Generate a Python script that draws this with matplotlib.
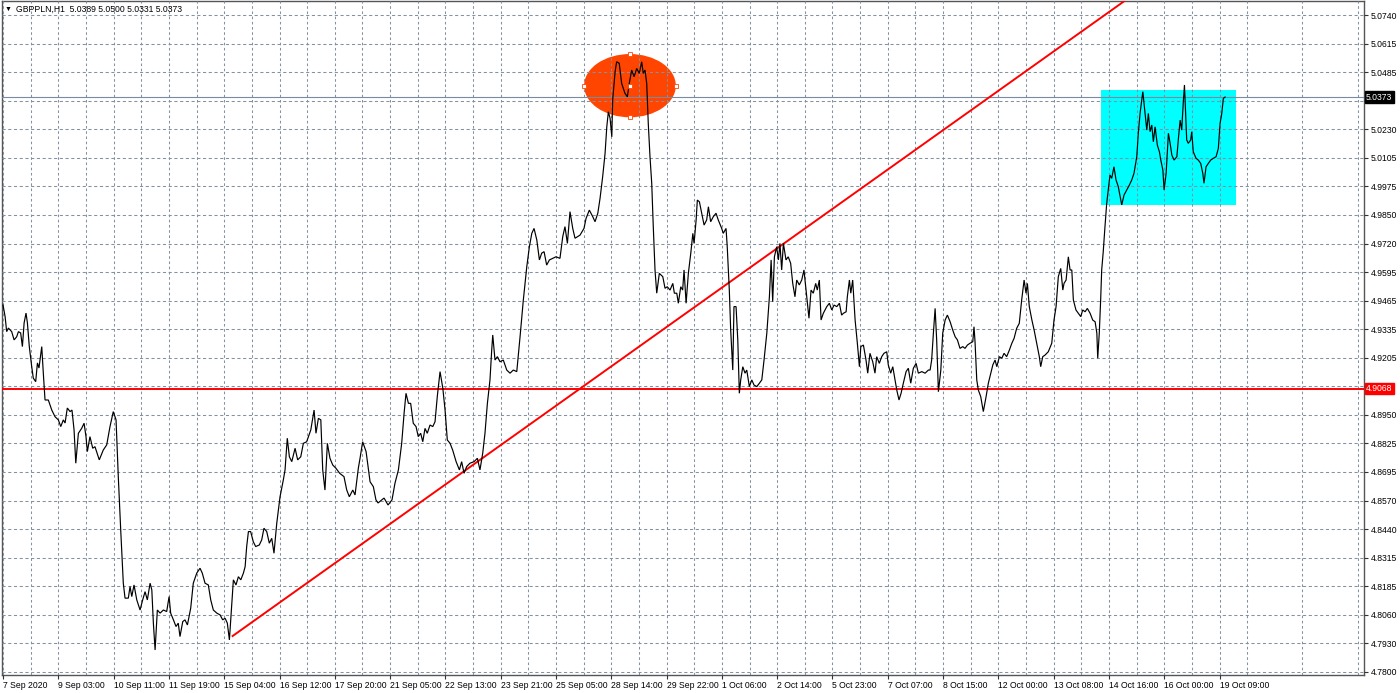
import numpy as np
import matplotlib

matplotlib.use("Agg")
import matplotlib.pyplot as plt
from matplotlib.patches import Ellipse, Rectangle
from matplotlib.transforms import blended_transform_factory

# hourly GBPPLN bars, vertices (bar index, price)
bars = [
    0, 1.2, 2.1, 3.1, 5.0, 6.4, 7.9, 8.9, 10.2, 11.2, 12.2, 13.3, 14.1, 15.2, 16.6, 17.5, 18.9, 19.9, 20.8, 22.4,
    23.3, 24.3, 26.2, 28.2, 30.1, 32.0, 33.4, 34.9, 35.9, 37.2, 38.8, 39.9, 41.1, 42.1, 43.6, 45.5, 46.9, 48.0, 48.8, 50.3,
    51.9, 53.2, 55.7, 58.0, 60.0, 61.9, 63.8, 65.4, 66.7, 68.1, 69.6, 70.6, 72.5, 73.5, 74.5, 75.8, 77.4, 79.3, 80.8, 82.2,
    83.5, 85.1, 86.1, 87.0, 88.0, 89.3, 90.9, 92.8, 94.7, 96.1, 97.0, 98.6, 100.1, 101.4, 102.4, 104.0, 105.3, 106.7, 108.6, 110.1,
    112.1, 114.0, 115.3, 116.9, 118.8, 120.2, 121.7, 123.7, 125.6, 127.1, 128.5, 129.8, 131.0, 132.4, 133.3, 134.8, 136.2, 137.6, 139.1, 140.1,
    141.0, 142.0, 143.3, 144.8, 146.2, 148.3, 149.7, 151.0, 152.6, 154.1, 155.5, 156.8, 158.4, 160.3, 162.2, 163.2, 164.5, 165.7, 167.1, 169.0,
    170.5, 172.3, 173.8, 175.7, 178.1, 180.0, 181.1, 182.5, 183.9, 185.0, 186.3, 187.7, 189.2, 190.8, 192.7, 194.8, 197.3, 198.9, 200.4, 202.4,
    203.7, 205.6, 206.6, 208.1, 210.1, 212.4, 214.3, 215.8, 217.0, 220.5, 222.8, 225.1, 226.8, 228.8, 230.7, 232.1, 233.2, 234.6, 235.9, 237.4,
    239.0, 240.3, 241.7, 242.9, 244.2, 245.5, 247.1, 248.7, 250.0, 251.3, 252.9, 254.5, 255.8, 257.1, 258.7, 260.2, 262.2, 264.1, 265.4, 266.8,
    268.3, 270.2, 272.6, 274.5, 276.0, 277.6, 278.9, 280.3, 281.8, 282.8, 283.4, 284.7, 286.1, 287.6, 289.5, 291.5, 293.4, 295.3, 297.3, 299.2,
    301.1, 303.1, 304.6, 306.0, 307.3, 308.9, 310.4, 311.7, 313.1, 314.6, 316.2, 318.1, 320.0, 322.3, 323.9, 325.2, 326.6, 328.1, 329.7, 331.0,
    333.9, 336.2, 337.4, 339.3, 341.3, 342.6, 344.2, 345.5, 347.0, 348.4, 349.4, 350.3, 351.3, 352.3, 352.8, 354.2, 355.1, 356.6, 358.0, 359.9,
    361.3, 362.4, 363.8, 365.2, 366.7, 368.2, 369.6, 370.5, 371.5, 372.5, 373.4, 374.4, 375.4, 376.3, 377.3, 378.3, 379.8, 381.8, 383.1, 384.4,
    386.0, 387.6, 388.5, 389.9, 390.8, 392.2, 393.3, 394.1, 395.3, 396.6, 398.0, 399.2, 399.9, 401.1, 401.8, 403.0, 404.3, 405.7, 407.2, 408.2,
    409.5, 411.0, 412.6, 413.9, 415.9, 416.8, 418.4, 419.1, 420.3, 421.1, 422.3, 423.0, 424.2, 425.2, 426.1, 426.9, 428.1, 429.4, 430.4, 431.9,
    433.3, 434.6, 436.2, 437.7, 439.1, 440.4, 442.0, 443.5, 444.5, 445.4, 446.4, 447.7, 448.7, 449.6, 450.6, 451.6, 453.1, 454.4, 455.8, 457.0,
    458.3, 459.3, 460.8, 462.2, 463.5, 465.1, 466.4, 467.6, 468.9, 470.3, 471.2, 472.4, 473.4, 474.7, 476.7, 478.2, 479.6, 480.9, 482.5, 484.0,
    485.3, 486.3, 487.9, 488.6, 489.8, 490.6, 491.7, 493.1, 494.4, 495.6, 496.4, 497.9, 499.4, 500.4, 501.7, 503.3, 504.6, 505.6, 507.1, 508.5,
    509.8, 511.4, 512.3, 513.7, 514.9, 516.2, 517.2, 518.5, 519.7, 521.0, 522.6, 523.9, 525.3, 526.8, 528.4, 529.7, 531.7, 533.6, 535.5, 536.5,
    537.4, 538.4, 539.4, 540.3, 541.3, 542.7, 543.8, 545.2, 546.5, 548.1, 549.6, 551.0, 552.3, 553.8, 555.4, 556.7, 558.1, 559.6, 561.2, 561.9,
    562.5, 563.5, 564.4, 565.8, 567.3, 568.9, 570.2, 571.6, 572.8, 574.1, 575.1, 576.6, 578.0, 579.3, 580.8, 582.4, 583.8, 585.1, 586.6, 588.1,
    589.5, 590.9, 592.0, 592.8, 593.9, 595.4, 596.7, 598.2, 599.7, 600.5, 601.7, 603.0, 604.9, 606.9, 608.2, 609.4, 610.7, 612.1, 613.3, 614.0,
    615.2, 616.5, 617.5, 618.5, 619.4, 620.9, 622.3, 623.7, 624.8, 626.2, 627.5, 629.1, 630.6, 632.0, 633.0, 633.5, 634.4, 635.2, 635.8, 636.7,
    637.7, 638.7, 639.6, 640.6, 641.6, 642.9, 644.1, 645.4, 647.4, 648.7, 650.3, 651.8, 653.2, 654.5, 656.1, 657.0, 658.0, 659.6, 660.9, 661.9,
    662.8, 663.8, 664.8, 665.7, 666.7, 668.0, 669.2, 670.0, 671.2, 671.9, 673.1, 674.4, 675.4, 676.4, 677.7, 679.3, 680.2, 681.2, 682.1, 683.1,
    683.7, 684.4, 685.0, 685.9, 687.3, 687.9, 688.8, 690.4, 691.7, 693.1, 694.3, 695.0, 696.2, 697.5, 698.9, 700.4, 702.0, 703.3, 704.3, 705.3,
    706.2, 707.2,
]
prices = [
    4.9442, 4.9390, 4.9323, 4.9339, 4.9323, 4.9286, 4.9300, 4.9323, 4.9317, 4.9256, 4.9362, 4.9406, 4.9362, 4.9256, 4.9166, 4.9115, 4.9099, 4.9183, 4.9160, 4.9256,
    4.9138, 4.9017, 4.9017, 4.8972, 4.8942, 4.8928, 4.8898, 4.8928, 4.8914, 4.8981, 4.8965, 4.8972, 4.8883, 4.8734, 4.8868, 4.8890, 4.8913, 4.8853, 4.8786, 4.8853,
    4.8801, 4.8808, 4.8749, 4.8793, 4.8816, 4.8898, 4.8965, 4.8928, 4.8674, 4.8435, 4.8197, 4.8130, 4.8130, 4.8182, 4.8137, 4.8189, 4.8122, 4.8077, 4.8122, 4.8159,
    4.8122, 4.8197, 4.8167, 4.8018, 4.7898, 4.8077, 4.8063, 4.8077, 4.8070, 4.8137, 4.8063, 4.8033, 4.8003, 4.8018, 4.7958, 4.8025, 4.8033, 4.8010, 4.8085, 4.8197,
    4.8242, 4.8264, 4.8242, 4.8197, 4.8189, 4.8122, 4.8077, 4.8063, 4.8055, 4.8033, 4.8040, 4.8018, 4.7943, 4.8107, 4.8212, 4.8189, 4.8226, 4.8212, 4.8242, 4.8271,
    4.8361, 4.8428, 4.8428, 4.8383, 4.8361, 4.8368, 4.8391, 4.8443, 4.8428, 4.8376, 4.8398, 4.8331, 4.8465, 4.8584, 4.8659, 4.8704, 4.8846, 4.8763, 4.8741, 4.8801,
    4.8749, 4.8763, 4.8823, 4.8830, 4.8883, 4.8972, 4.8868, 4.8935, 4.8928, 4.8704, 4.8614, 4.8823, 4.8756, 4.8726, 4.8711, 4.8689, 4.8674, 4.8614, 4.8584, 4.8614,
    4.8592, 4.8711, 4.8756, 4.8830, 4.8786, 4.8651, 4.8629, 4.8570, 4.8556, 4.8578, 4.8547, 4.8570, 4.8644, 4.8704, 4.8823, 4.8958, 4.9047, 4.9002, 4.9002, 4.8913,
    4.8898, 4.8853, 4.8868, 4.8830, 4.8890, 4.8868, 4.8905, 4.8898, 4.8920, 4.9032, 4.9144, 4.9070, 4.8972, 4.8838, 4.8823, 4.8793, 4.8741, 4.8704, 4.8741, 4.8689,
    4.8719, 4.8734, 4.8741, 4.8756, 4.8704, 4.8779, 4.8868, 4.9002, 4.9107, 4.9241, 4.9308, 4.9196, 4.9211, 4.9188, 4.9196, 4.9151, 4.9137, 4.9151, 4.9144, 4.9300,
    4.9465, 4.9614, 4.9703, 4.9763, 4.9785, 4.9733, 4.9644, 4.9674, 4.9681, 4.9621, 4.9644, 4.9651, 4.9658, 4.9651, 4.9748, 4.9793, 4.9718, 4.9860, 4.9785, 4.9741,
    4.9755, 4.9785, 4.9830, 4.9867, 4.9837, 4.9815, 4.9853, 4.9920, 5.0016, 5.0121, 5.0240, 5.0307, 5.0278, 5.0195, 5.0360, 5.0486, 5.0531, 5.0524, 5.0434, 5.0390,
    5.0374, 5.0434, 5.0494, 5.0464, 5.0501, 5.0479, 5.0531, 5.0479, 5.0494, 5.0434, 5.0255, 5.0106, 4.9987, 4.9793, 4.9599, 4.9495, 4.9584, 4.9569, 4.9517, 4.9524,
    4.9509, 4.9539, 4.9495, 4.9495, 4.9450, 4.9524, 4.9509, 4.9599, 4.9450, 4.9584, 4.9674, 4.9763, 4.9718, 4.9823, 4.9912, 4.9904, 4.9853, 4.9800, 4.9823, 4.9882,
    4.9815, 4.9837, 4.9853, 4.9823, 4.9785, 4.9763, 4.9785, 4.9703, 4.9509, 4.9330, 4.9151, 4.9435, 4.9435, 4.9286, 4.9047, 4.9107, 4.9166, 4.9137, 4.9151, 4.9077,
    4.9107, 4.9084, 4.9077, 4.9092, 4.9107, 4.9196, 4.9316, 4.9479, 4.9644, 4.9457, 4.9658, 4.9703, 4.9644, 4.9718, 4.9599, 4.9718, 4.9644, 4.9658, 4.9629, 4.9539,
    4.9479, 4.9554, 4.9532, 4.9554, 4.9599, 4.9479, 4.9383, 4.9509, 4.9495, 4.9539, 4.9509, 4.9554, 4.9375, 4.9405, 4.9435, 4.9450, 4.9420, 4.9442, 4.9435, 4.9450,
    4.9397, 4.9405, 4.9412, 4.9479, 4.9554, 4.9495, 4.9554, 4.9375, 4.9271, 4.9166, 4.9256, 4.9263, 4.9196, 4.9137, 4.9226, 4.9188, 4.9137, 4.9211, 4.9181, 4.9211,
    4.9226, 4.9233, 4.9174, 4.9137, 4.9166, 4.9107, 4.9062, 4.9017, 4.9047, 4.9092, 4.9144, 4.9159, 4.9092, 4.9159, 4.9181, 4.9137, 4.9144, 4.9137, 4.9151, 4.9151,
    4.9196, 4.9316, 4.9427, 4.9286, 4.9054, 4.9151, 4.9316, 4.9375, 4.9397, 4.9367, 4.9330, 4.9300, 4.9286, 4.9248, 4.9256, 4.9248, 4.9263, 4.9271, 4.9278, 4.9345,
    4.9278, 4.9107, 4.9062, 4.9032, 4.8965, 4.9032, 4.9092, 4.9137, 4.9174, 4.9196, 4.9166, 4.9211, 4.9204, 4.9226, 4.9211, 4.9241, 4.9271, 4.9293, 4.9338, 4.9360,
    4.9465, 4.9554, 4.9495, 4.9539, 4.9435, 4.9375, 4.9330, 4.9271, 4.9211, 4.9166, 4.9211, 4.9218, 4.9233, 4.9271, 4.9375, 4.9435, 4.9569, 4.9606, 4.9509, 4.9539,
    4.9554, 4.9658, 4.9599, 4.9599, 4.9465, 4.9420, 4.9405, 4.9390, 4.9420, 4.9412, 4.9427, 4.9405, 4.9375, 4.9367, 4.9316, 4.9204, 4.9316, 4.9465, 4.9599, 4.9681,
    4.9793, 4.9897, 4.9957, 5.0024, 5.0009, 5.0061, 5.0002, 4.9972, 4.9890, 4.9934, 4.9957, 4.9979, 5.0002, 5.0032, 5.0106, 5.0211, 5.0300, 5.0397, 5.0300, 5.0225,
    5.0300, 5.0218, 5.0248, 5.0173, 5.0240, 5.0158, 5.0128, 5.0091, 5.0046, 4.9957, 5.0032, 5.0211, 5.0166, 5.0113, 5.0091, 5.0106, 5.0188, 5.0270, 5.0225, 5.0360,
    5.0427, 5.0300, 5.0181, 5.0166, 5.0181, 5.0218, 5.0128, 5.0099, 5.0091, 5.0076, 5.0032, 4.9987, 5.0061, 5.0076, 5.0091, 5.0099, 5.0106, 5.0143, 5.0255, 5.0300,
    5.0367, 5.0373,
]

time_labels = [
    "7 Sep 2020", "9 Sep 03:00", "10 Sep 11:00", "11 Sep 19:00", "15 Sep 04:00", "16 Sep 12:00",
    "17 Sep 20:00", "21 Sep 05:00", "22 Sep 13:00", "23 Sep 21:00", "25 Sep 05:00", "28 Sep 14:00",
    "29 Sep 22:00", "1 Oct 06:00", "2 Oct 14:00", "5 Oct 23:00", "7 Oct 07:00", "8 Oct 15:00",
    "12 Oct 00:00", "13 Oct 08:00", "14 Oct 16:00", "16 Oct 00:00", "19 Oct 09:00",
]
# two scale labels sit under the price tags and are hidden there
price_labels = [
    "5.0740", "5.0615", "5.0485", "", "5.0230", "5.0105", "4.9975", "4.9850", "4.9720",
    "4.9595", "4.9465", "4.9335", "4.9205", "", "4.8950", "4.8825", "4.8695", "4.8570",
    "4.8440", "4.8315", "4.8185", "4.8060", "4.7930", "4.7800",
]

header = "GBPPLN,H1  5.0389 5.0500 5.0331 5.0373"
last_price = 5.0373
support = 4.9068
trend_start = (132.4, 4.7958)
trend_point = (584.7, 5.0449)
ellipse_center = (362.8, 5.0424)
ellipse_size = (53.1, 0.0283)
box_bars = (635.4, 713.5)
box_prices = (4.9890, 5.0404)

W, H = 1400, 693
fig = plt.figure(figsize=(W / 100, H / 100), dpi=100)
fig.patch.set_facecolor("white")
ax = fig.add_axes([2 / W, 18 / H, 1362 / W, 674 / H])
ax.set_xlim(-0.6, 787.6)
ax.set_ylim(4.7786, 5.0803)

font = ["Liberation Sans", "DejaVu Sans"]
grid_color = "#8391a0"

# grid
xt = np.arange(0, 32 * len(time_labels), 32)
ax.set_xticks(xt)
ax.set_xticklabels(time_labels, fontsize=6.2, family=font, ha="left")
ax.set_xticks(np.arange(16, 787, 32), minor=True)
yt = np.linspace(5.0740, 4.7800, len(price_labels))
ax.yaxis.tick_right()
ax.set_yticks(yt)
ax.set_yticklabels(price_labels, fontsize=6.2, family=font)
ax.tick_params(axis="x", which="major", length=3, pad=1.5, width=0.8, color="#333333")
ax.tick_params(axis="x", which="minor", length=0)
ax.tick_params(axis="y", length=3, pad=2, width=0.8, color="#333333")
ax.set_axisbelow(False)
ax.grid(True, axis="x", which="both", color=grid_color, linestyle=(0, (2.5, 2.5)), linewidth=0.75)
ax.grid(True, axis="y", which="major", color=grid_color, linestyle=(0, (3, 2.5)), linewidth=0.75)
for s in ax.spines.values():
    s.set_color("#555555")
    s.set_linewidth(1.0)

# objects
ax.add_patch(Rectangle((box_bars[0], box_prices[0]), box_bars[1] - box_bars[0],
                       box_prices[1] - box_prices[0], facecolor="#00ffff", edgecolor="none", zorder=1))
ax.add_patch(Ellipse(ellipse_center, ellipse_size[0], ellipse_size[1],
                     facecolor="#ff4500", edgecolor="none", zorder=1))
cx, cy = ellipse_center
hx = [cx - ellipse_size[0] / 2, cx + ellipse_size[0] / 2, cx, cx, cx]
hy = [cy, cy, cy + ellipse_size[1] / 2, cy - ellipse_size[1] / 2, cy]
ax.plot(hx, hy, "s", ms=2.6, mfc="white", mec="#ff4500", mew=0.6, zorder=3.5, linestyle="none")

ax.axhline(last_price, color="#7a8aa0", linewidth=0.8, zorder=2.8)
ax.axhline(support, color="#ff0000", linewidth=1.4, zorder=2.8)
slope = (trend_point[1] - trend_start[1]) / (trend_point[0] - trend_start[0])
x_end = 800
ax.plot([trend_start[0], x_end], [trend_start[1], trend_start[1] + slope * (x_end - trend_start[0])],
        color="#ff0000", linewidth=1.4, zorder=2.8, solid_capstyle="butt")

ax.plot(bars, prices, color="black", linewidth=0.85, zorder=3, solid_joinstyle="miter")

# price tags on the right scale
tr = blended_transform_factory(ax.transAxes, ax.transData)
ax.text(1.0015, last_price, f"{last_price:.4f}", transform=tr, fontsize=6.2, family=font,
        color="white", va="center", ha="left",
        bbox=dict(boxstyle="square,pad=0.15", facecolor="black", edgecolor="black"), zorder=5, clip_on=False)
ax.text(1.0015, support, f"{support:.4f}", transform=tr, fontsize=6.2, family=font,
        color="white", va="center", ha="left",
        bbox=dict(boxstyle="square,pad=0.15", facecolor="#ff0000", edgecolor="#ff0000"), zorder=5, clip_on=False)

fig.text(5 / W, 1 - 9 / H, "\u25bc", fontsize=5, family=font, va="center", ha="left")
fig.text(16 / W, 1 - 9 / H, header, fontsize=6.2, family=font, va="center", ha="left")

fig.savefig("out.png", dpi=100, facecolor="white")
